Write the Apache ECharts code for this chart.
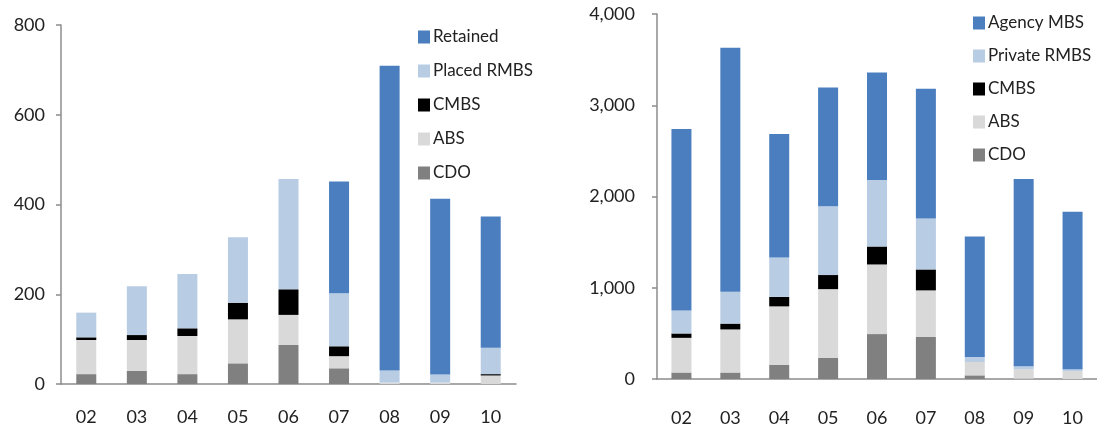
<!DOCTYPE html>
<html>
<head>
<meta charset="utf-8">
<script src="https://cdn.jsdelivr.net/npm/echarts@6/dist/echarts.min.js"></script>
<style>
  html, body { margin: 0; padding: 0; background: #fff; }
  #chart { width: 1097px; height: 427px; }
</style>
</head>
<body>
<div id="chart"></div>
<script>
// years on both x axes
var years = ['02', '03', '04', '05', '06', '07', '08', '09', '10'];

// left panel
var cdoL      = [22, 29, 22, 46, 87, 35, 0, 0, 0];
var absL      = [76, 69, 85, 98, 67, 27, 3, 3, 19];
var cmbsL     = [6, 11, 17, 37, 57, 22, 0, 0, 3];
var placedL   = [55, 109, 121, 146, 246, 118, 27, 18, 59];
var retainedL = [0, 0, 0, 0, 0, 249, 679, 392, 292];
var leftTicks = [0, 800, 200];

// right panel
var cdoR      = [71, 71, 154, 230, 492, 460, 40, 3, 0];
var absR      = [380, 472, 642, 755, 763, 511, 147, 105, 86];
var cmbsR     = [48, 64, 104, 154, 197, 230, 0, 0, 0];
var privateR  = [252, 350, 432, 755, 729, 559, 54, 32, 22];
var agencyR   = [1990, 2673, 1352, 1300, 1179, 1420, 1322, 2052, 1725];
var rightTicks = [0, 4000, 1000];

var colBlue = '#4a7ebf', colLight = '#b8cce4', colBlack = '#000000',
    colAbs = '#d9d9d9', colCdo = '#808080';

var font = 'Lato';
var axisColor = '#8c8c8c';

function bar(name, data, color, idx) {
    return {
        name: name,
        type: 'bar',
        stack: 'total' + idx,
        xAxisIndex: idx,
        yAxisIndex: idx,
        barWidth: 20,
        data: data,
        itemStyle: {color: color},
        emphasis: {disabled: true}
    };
}

function xAx(idx, margin) {
    return {
        type: 'category',
        gridIndex: idx,
        data: years,
        axisLine: {lineStyle: {color: axisColor, width: 1.5}},
        axisTick: {length: 6, lineStyle: {color: axisColor, width: 1.5}},
        axisLabel: {margin: margin, color: '#222', fontSize: 18, fontFamily: font}
    };
}

function yAx(idx, ticks, margin) {
    return {
        type: 'value',
        gridIndex: idx,
        min: ticks[0],
        max: ticks[1],
        interval: ticks[2],
        splitLine: {show: false},
        axisLine: {show: true, lineStyle: {color: axisColor, width: 1.5}},
        axisTick: {show: true, length: 5, lineStyle: {color: axisColor, width: 1.5}},
        axisLabel: {
            margin: margin, color: '#222', fontSize: 18, fontFamily: font,
            formatter: function (v) { return v.toLocaleString('en-US'); }
        }
    };
}

function leg(names, left, top, gap) {
    return {
        orient: 'vertical',
        left: left,
        top: top,
        icon: 'rect',
        itemWidth: 12,
        itemHeight: 13,
        itemGap: gap,
        selectedMode: false,
        textStyle: {fontSize: 17, fontFamily: font, color: '#222', padding: [0, 0, 0, -2], lineHeight: 20},
        data: names
    };
}

var myChart = echarts.init(document.getElementById('chart'), null, {renderer: 'canvas'});
var option = {
    animation: false,
    grid: [
        {left: 61, top: 25, width: 455, height: 359},
        {left: 657, top: 14, width: 450, height: 371}
    ],
    legend: [
        leg(['Retained', 'Placed RMBS', 'CMBS', 'ABS', 'CDO'], 413, 22, 14),
        leg(['Agency MBS', 'Private RMBS', 'CMBS ', 'ABS ', 'CDO '], 968, 8, 13)
    ],
    xAxis: [xAx(0, 24), xAx(1, 30)],
    yAxis: [yAx(0, leftTicks, 16), yAx(1, rightTicks, 22)],
    series: [
        bar('CDO', cdoL, colCdo, 0),
        bar('ABS', absL, colAbs, 0),
        bar('CMBS', cmbsL, colBlack, 0),
        bar('Placed RMBS', placedL, colLight, 0),
        bar('Retained', retainedL, colBlue, 0),
        bar('CDO ', cdoR, colCdo, 1),
        bar('ABS ', absR, colAbs, 1),
        bar('CMBS ', cmbsR, colBlack, 1),
        bar('Private RMBS', privateR, colLight, 1),
        bar('Agency MBS', agencyR, colBlue, 1)
    ]
};
myChart.setOption(option);
</script>
</body>
</html>
